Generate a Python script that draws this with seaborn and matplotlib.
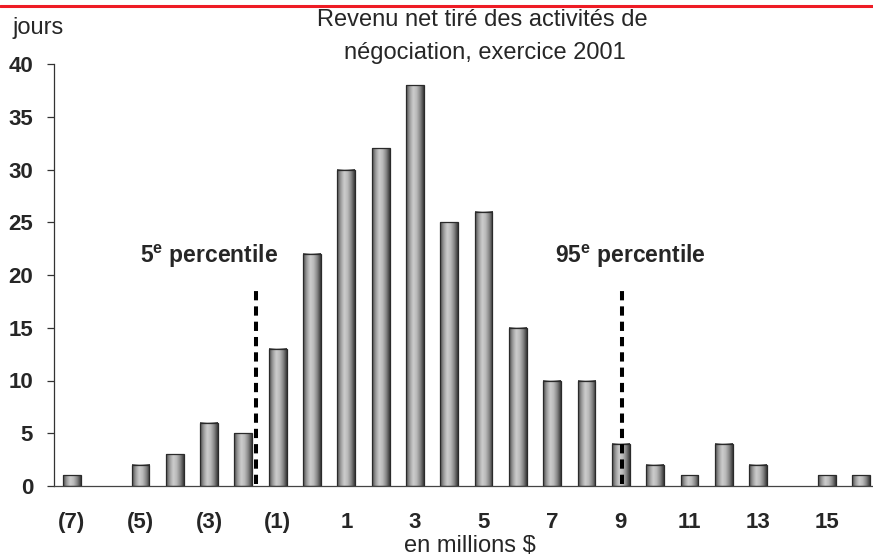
import numpy as np
import pandas as pd
import matplotlib
matplotlib.use("Agg")
import matplotlib.pyplot as plt
import seaborn as sns

from matplotlib.colors import LinearSegmentedColormap
from matplotlib.lines import Line2D


# revenue bucket (millions $) and number of trading days
revenue = list(range(-7, 17))
days = [1, 0, 2, 3, 6, 5, 13, 22, 30, 32, 38, 25, 26, 15, 10, 10,
        4, 2, 1, 4, 2, 0, 1, 1]
shown_ticks = [-7, -5, -3, -1, 1, 3, 5, 7, 9, 11, 13, 15]
y_ticks = [0, 5, 10, 15, 20, 25, 30, 35, 40]

# percentile markers: (position in bucket units, line top, label, label x)
pct_low = (-1.64, 19.0, r"5$^\mathbf{e}$ percentile", -5.0)
pct_high = (9.04, 18.9, r"95$^\mathbf{e}$ percentile", 7.07)


def fmt(v):
    return f"({-v})" if v < 0 else str(v)


def bar_cmap():
    colors = ["#4c4c4c", "#9a9a9a", "#cdcdcd", "#bababa", "#868686",
              "#383838"]
    return LinearSegmentedColormap.from_list("cyl", colors)


def main():
    sns.set_style("white")
    plt.rcParams["font.family"] = ["Liberation Sans", "DejaVu Sans"]
    plt.rcParams["mathtext.fontset"] = "custom"
    plt.rcParams["mathtext.rm"] = "Liberation Sans"
    plt.rcParams["mathtext.bf"] = "Liberation Sans:bold"

    df = pd.DataFrame({"label": [fmt(v) for v in revenue], "days": days})
    order = list(df["label"])

    fig = plt.figure(figsize=(8.73, 5.58), dpi=100)
    ax = fig.add_axes([54 / 873, 1 - 486 / 558, 1 - 54 / 873,
                       (486 - 64) / 558])

    sns.barplot(data=df, x="label", y="days", order=order, color="#a0a0a0",
                width=0.52, edgecolor="#2a2a2a", linewidth=0.9, ax=ax)

    # cylinder shading on each bar
    cmap = bar_cmap()
    grad = np.linspace(0, 1, 64).reshape(1, -1)
    for bar in ax.patches:
        h = bar.get_height()
        if h <= 0:
            bar.set_visible(False)
            continue
        x0 = bar.get_x()
        w = bar.get_width()
        ax.imshow(grad, extent=[x0, x0 + w, 0, h], aspect="auto",
                  cmap=cmap, zorder=2, interpolation="bicubic")
        bar.set_facecolor("none")
        bar.set_zorder(3)

    ax.set_xlim(-0.52, len(revenue) - 0.65)
    ax.set_ylim(0, 40)

    # percentile lines and labels
    for pos, top, label, lx in (pct_low, pct_high):
        xi = pos - revenue[0]
        ax.add_line(Line2D([xi, xi], [0.2, top], color="black", lw=2.9,
                           dashes=(2.3, 1.5), zorder=4))
        ax.text(lx - revenue[0], 21.8, label, fontsize=16.5,
                fontweight="bold", va="center", ha="left")

    ax.set_xticks([revenue.index(v) for v in shown_ticks])
    ax.set_xticklabels([fmt(v) for v in shown_ticks], fontweight="bold",
                       fontsize=16)
    ax.set_yticks(y_ticks)
    ax.set_yticklabels([str(v) for v in y_ticks], fontweight="bold",
                       fontsize=16)
    ax.tick_params(axis="x", length=0, pad=19)
    ax.tick_params(axis="y", length=5, width=0.9, color="#333333",
                   direction="out", left=True, pad=10)
    ax.set_xlabel("")
    ax.set_ylabel("")

    sns.despine(ax=ax, top=True, right=True)
    ax.spines["left"].set_color("#333333")
    ax.spines["bottom"].set_color("#444444")
    ax.spines["left"].set_linewidth(0.9)
    ax.spines["bottom"].set_linewidth(0.9)

    # texts around the plot
    fig.text(470 / 873, 1 - 546 / 558, "en millions \\$", ha="center",
             va="center", fontsize=17)
    fig.text(12 / 873, 1 - 28 / 558, "jours", ha="left", va="center",
             fontsize=17)
    fig.text(482 / 873, 1 - 20 / 558, "Revenu net tiré des activités de",
             ha="center", va="center", fontsize=17)
    fig.text(485 / 873, 1 - 53 / 558, "négociation, exercice 2001",
             ha="center", va="center", fontsize=17)

    # red rule along the top
    fig.add_artist(Line2D([0, 1], [1 - 5.5 / 558, 1 - 5.5 / 558],
                          color="#ee1c25", lw=2.2, transform=fig.transFigure))

    fig.savefig("out.png", dpi=100)


if __name__ == "__main__":
    main()
